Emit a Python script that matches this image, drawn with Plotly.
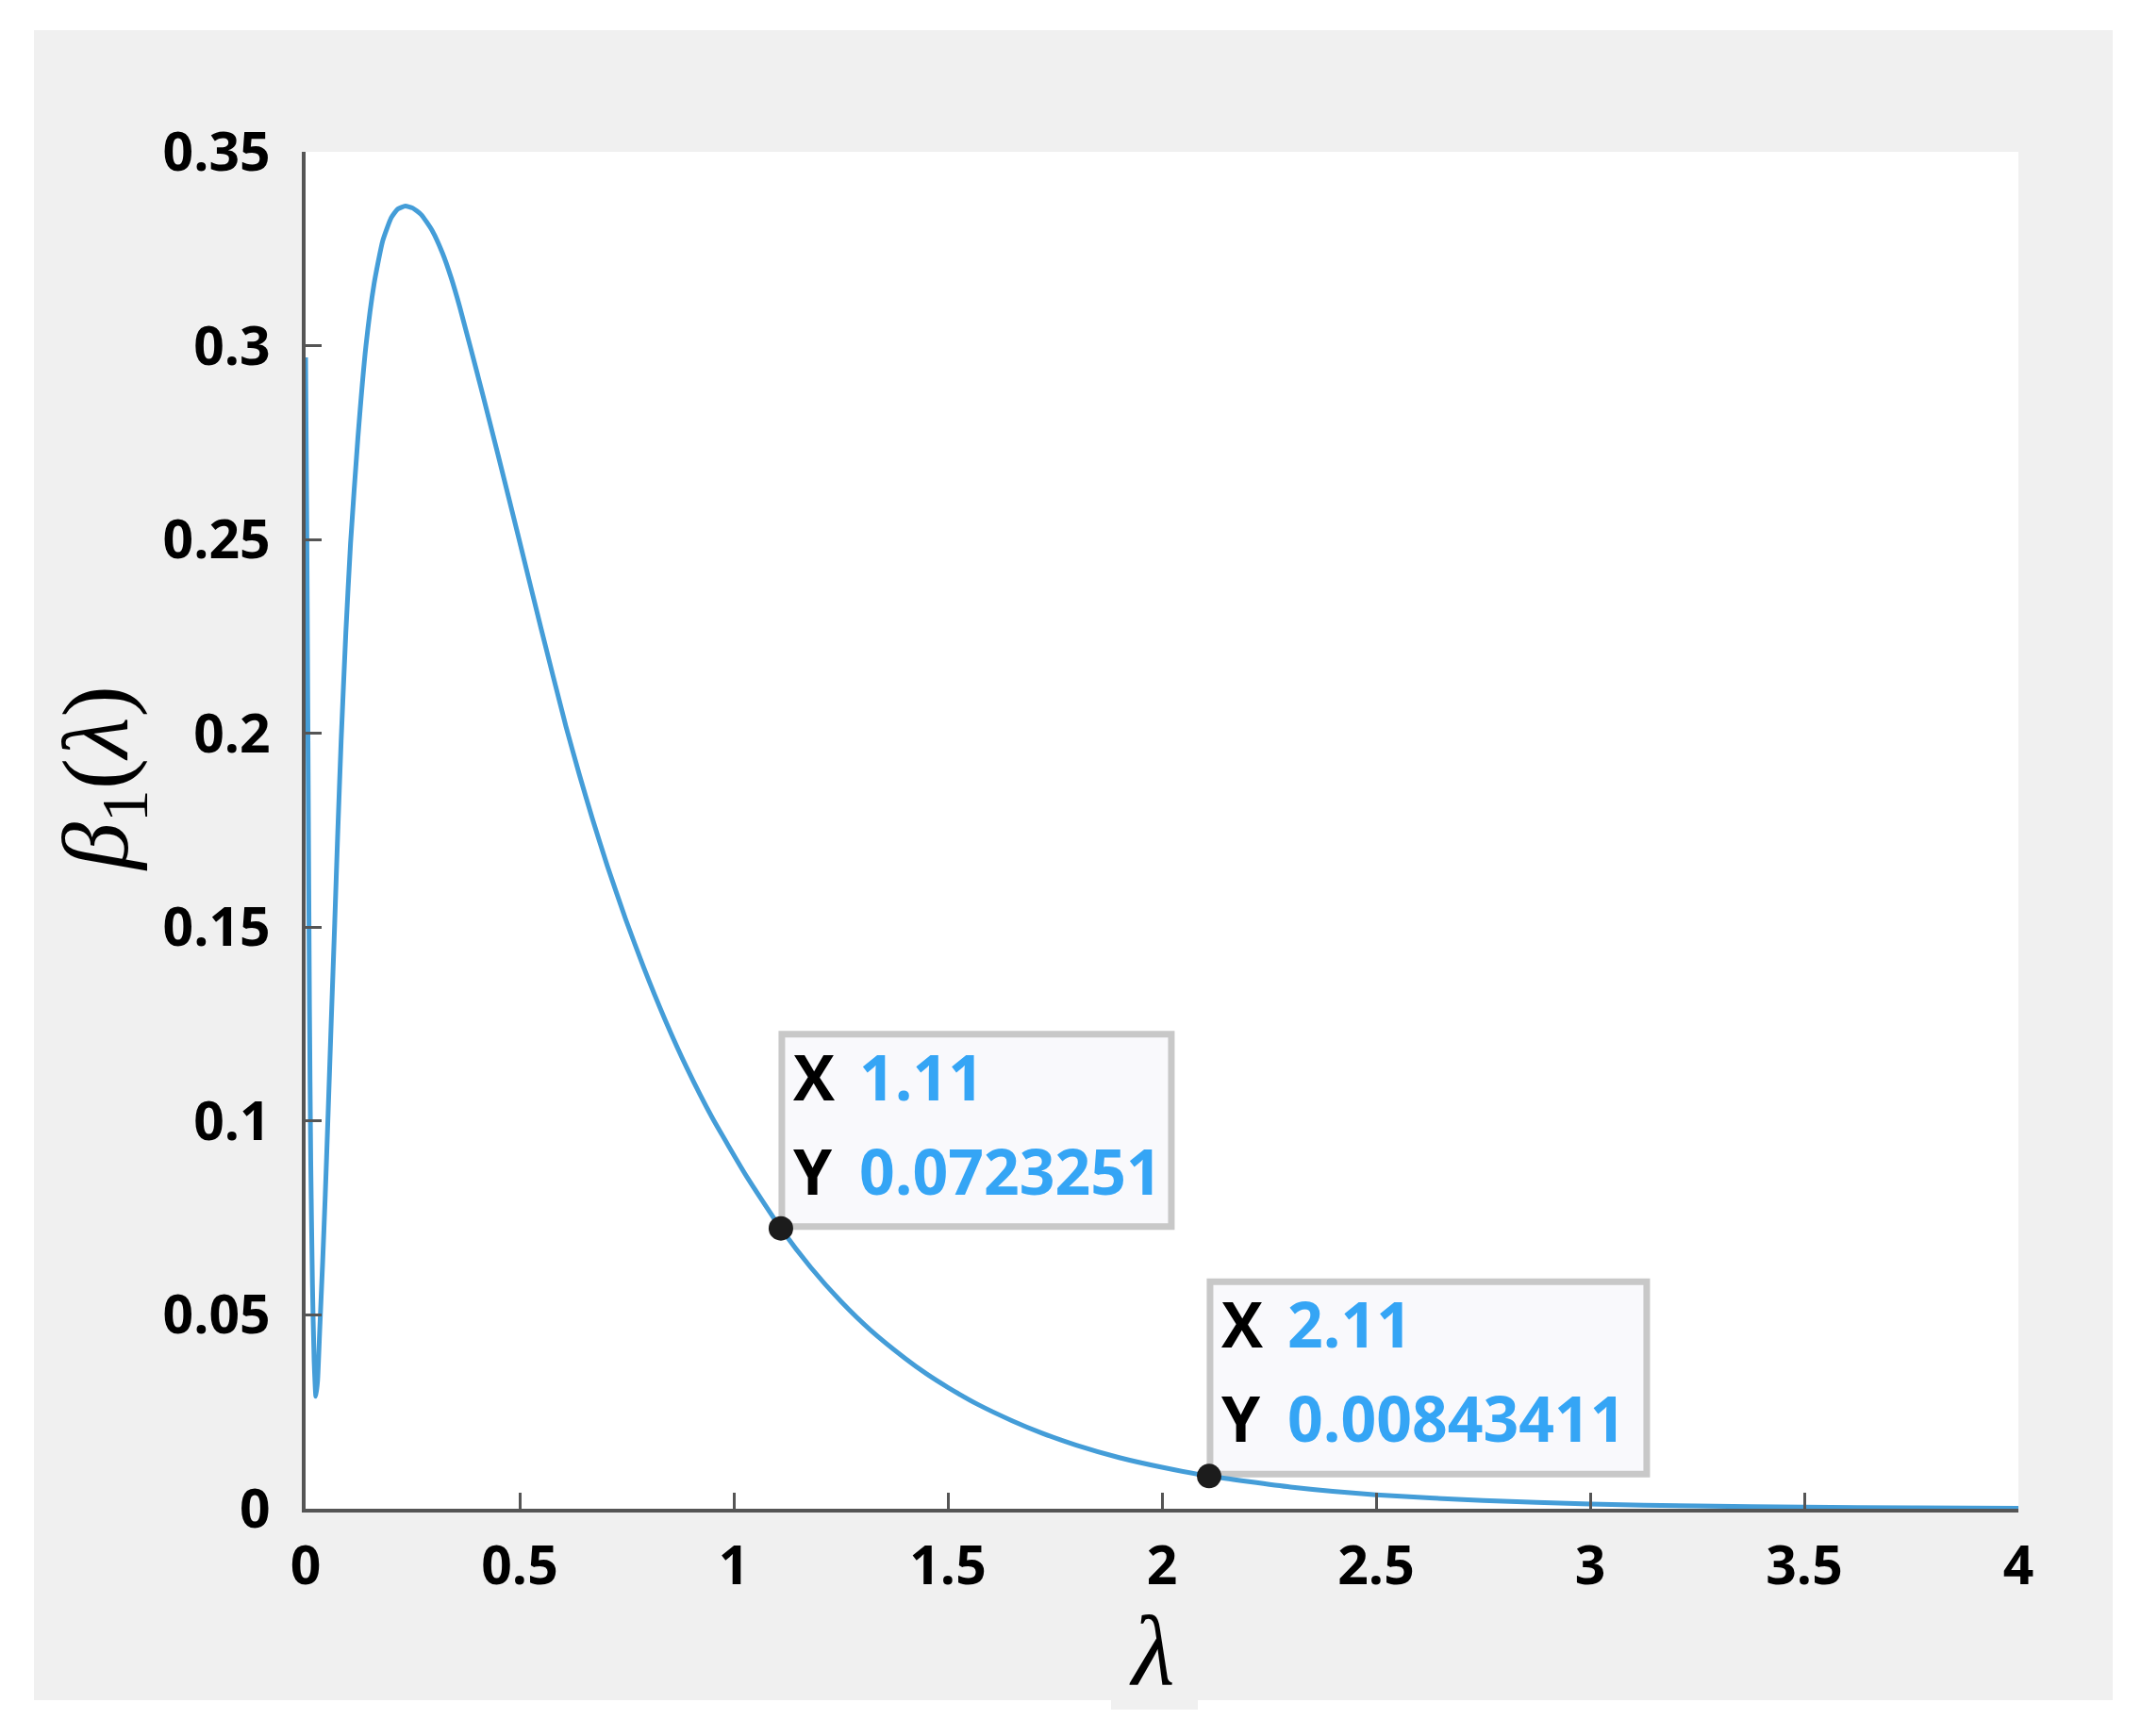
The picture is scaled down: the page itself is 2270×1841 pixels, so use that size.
import plotly.graph_objects as go

# ---- data ----
lam = [0, 0.003, 0.006, 0.009, 0.012, 0.016, 0.020, 0.024, 0.028, 0.033, 0.040,
       0.046, 0.052, 0.060, 0.068, 0.075, 0.083, 0.094, 0.105, 0.122, 0.141,
       0.16, 0.18, 0.20, 0.215, 0.233, 0.25, 0.27, 0.295, 0.32, 0.34, 0.36,
       0.41, 0.45, 0.498, 0.55, 0.608, 0.64, 0.67, 0.705, 0.748, 0.79, 0.84, 0.89,
       0.949, 1.03, 1.11, 1.18, 1.25, 1.32, 1.4, 1.45, 1.5, 1.57, 1.65, 1.72, 1.8,
       1.9, 2.0, 2.11, 2.3, 2.5, 2.75, 3.0, 3.25, 3.5, 3.75, 4.0]
beta1 = [0.297, 0.25, 0.19, 0.13, 0.09, 0.058, 0.038, 0.029, 0.033, 0.046, 0.064,
         0.081, 0.1, 0.126, 0.151, 0.174, 0.198, 0.226, 0.249, 0.276, 0.3,
         0.316, 0.327, 0.333, 0.3352, 0.336, 0.3355, 0.3338, 0.3298, 0.3238, 0.3175, 0.310,
         0.289, 0.2716, 0.2503, 0.227, 0.2018, 0.1891, 0.1779, 0.1657, 0.1519, 0.1395, 0.126, 0.1138,
         0.101, 0.0857, 0.0723, 0.0622, 0.0535, 0.046, 0.0388, 0.0348, 0.0313, 0.0269, 0.0227,
         0.0195, 0.0164, 0.0132, 0.0107, 0.00843, 0.0056, 0.0036, 0.0021,
         0.0012, 0.0007, 0.0004, 0.00023, 0.00013]

tip_x = [1.11, 2.11]
tip_y = [0.0723251, 0.00843411]
tip_xtext = ["1.11", "2.11"]
tip_ytext = ["0.0723251", "0.00843411"]

x_tickvals = [0, 0.5, 1, 1.5, 2, 2.5, 3, 3.5, 4]
x_ticktext = ["0", "0.5", "1", "1.5", "2", "2.5", "3", "3.5", "4"]
y_tickvals = [0, 0.05, 0.1, 0.15, 0.2, 0.25, 0.3, 0.35]
y_ticktext = ["0", "0.05", "0.1", "0.15", "0.2", "0.25", "0.3", "0.35"]

# ---- layout geometry (pixels) ----
W, H = 2270, 1841
L, R, T, B = 324, 130, 161, 241
PW, PH = W - L - R, H - T - B


def px(xp):
    return (xp - L) / PW


def py(yp):
    return (H - B - yp) / PH


BLUE = "#449dd8"
TIPBLUE = "#35a5f5"
AXIS = "#555555"

fig = go.Figure()
fig.add_trace(go.Scatter(x=lam, y=beta1, mode="lines",
                         line=dict(color=BLUE, width=5, shape="spline", smoothing=0.5),
                         hoverinfo="skip", showlegend=False))
fig.add_trace(go.Scatter(x=tip_x, y=tip_y, mode="markers",
                         marker=dict(color="#1c1c1c", size=26),
                         cliponaxis=False, hoverinfo="skip", showlegend=False))

shapes = [
    dict(type="rect", xref="paper", yref="paper", x0=px(36), x1=px(2240), y0=py(1803), y1=py(32),
         fillcolor="#f0f0f0", line=dict(width=0), layer="below"),
    dict(type="rect", xref="paper", yref="paper", x0=px(1178), x1=px(1270), y0=py(1813), y1=py(1800),
         fillcolor="#f0f0f0", line=dict(width=0), layer="below"),
    dict(type="rect", xref="paper", yref="paper", x0=0, x1=1, y0=0, y1=1,
         fillcolor="#ffffff", line=dict(width=0), layer="below"),
]
box_w = [414, 464]
for xv, yv, bw in zip(tip_x, tip_y, box_w):
    shapes.append(dict(type="rect", xref="x", yref="y", xsizemode="pixel", ysizemode="pixel",
                       xanchor=xv, yanchor=yv, x0=1, x1=bw, y0=2, y1=206,
                       fillcolor="#f9f9fc", line=dict(color="#c8c8c8", width=7), layer="below"))

annotations = []
tipfont_lbl = dict(family="Open Sans", size=66, color="#000000", weight="bold")
tipfont_val = dict(family="Open Sans", size=66, color=TIPBLUE, weight="bold")
for xv, yv, xt, yt in zip(tip_x, tip_y, tip_xtext, tip_ytext):
    for lbl, val, ys in (("X", xt, 162), ("Y", yt, 62)):
        annotations.append(dict(xref="x", yref="y", x=xv, y=yv, text=lbl, showarrow=False,
                                xanchor="left", yanchor="middle", xshift=12, yshift=ys,
                                borderpad=0, font=tipfont_lbl))
        annotations.append(dict(xref="x", yref="y", x=xv, y=yv, text=val, showarrow=False,
                                xanchor="left", yanchor="middle", xshift=82, yshift=ys,
                                borderpad=0, font=tipfont_val))

annotations.append(dict(xref="paper", yref="paper", x=px(1221), y=py(1750), text="<i>λ</i>",
                        showarrow=False, xanchor="center", yanchor="middle",
                        font=dict(family="Liberation Serif", size=105, color="#000000")))
annotations.append(dict(xref="paper", yref="paper", x=px(108), y=py(826),
                        text="<i>β</i><sub>1</sub>(<i>λ</i>)", textangle=-90,
                        showarrow=False, xanchor="center", yanchor="middle",
                        font=dict(family="Liberation Serif", size=100, color="#000000")))

tickfont = dict(family="Open Sans", size=57, color="#000000", weight="bold")
fig.update_layout(
    width=W, height=H,
    margin=dict(l=L, r=R, t=T, b=B, pad=0),
    paper_bgcolor="#ffffff", plot_bgcolor="rgba(0,0,0,0)",
    shapes=shapes, annotations=annotations, showlegend=False,
    xaxis=dict(range=[0, 4], tickvals=x_tickvals, ticktext=x_ticktext, showgrid=False,
               zeroline=False, showline=True, linecolor=AXIS, linewidth=4,
               ticks="inside", ticklen=17, tickwidth=3, tickcolor=AXIS,
               tickfont=tickfont, ticklabelstandoff=8),
    yaxis=dict(range=[0, 0.35], tickvals=y_tickvals, ticktext=y_ticktext, showgrid=False,
               zeroline=False, showline=True, linecolor=AXIS, linewidth=4,
               ticks="inside", ticklen=17, tickwidth=3, tickcolor=AXIS,
               tickfont=tickfont, ticklabelstandoff=22),
)

fig.write_html("out.html", config={"displayModeBar": False},
               post_script="document.body.style.margin='0';document.body.style.overflow='hidden';")
